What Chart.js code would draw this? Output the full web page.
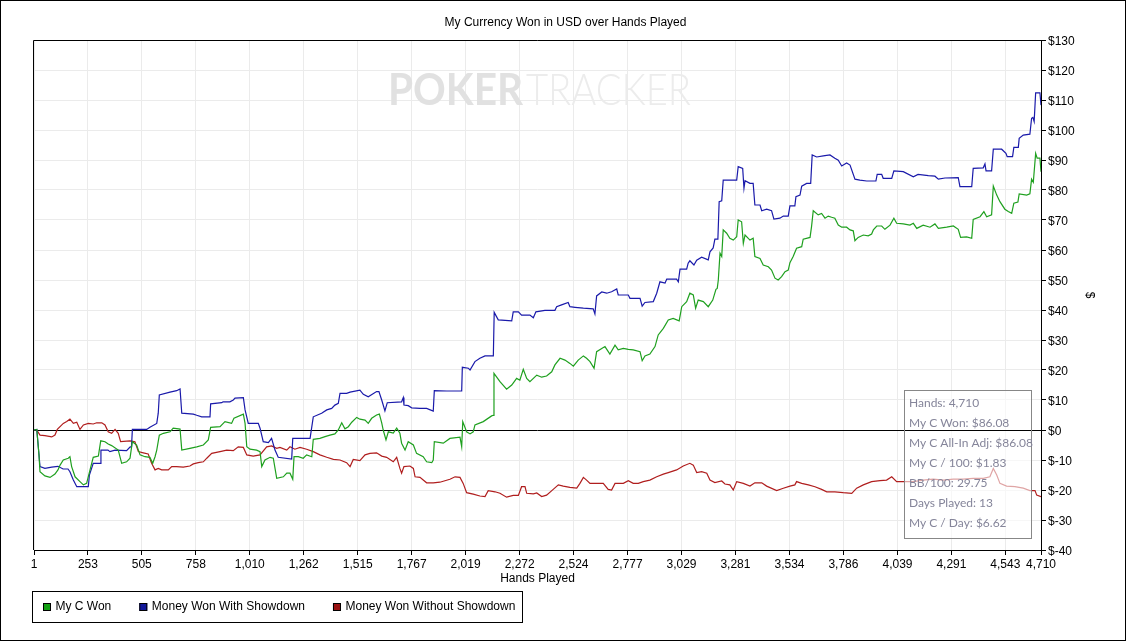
<!DOCTYPE html>
<html>
<head>
<meta charset="utf-8">
<script src="https://cdn.jsdelivr.net/npm/chart.js@4.4.1/dist/chart.umd.min.js"></script>
<style>
html,body{margin:0;padding:0;background:#fff;overflow:hidden}
#wrap{position:relative;width:1126px;height:641px}
</style>
</head>
<body>
<div id="wrap"><canvas id="c" width="1126" height="641"></canvas></div>
<script>
// ---------- DATA ----------
const chartTitle = 'My Currency Won in USD over Hands Played';
const xAxisTitle = 'Hands Played';
const yAxisTitle = '$';
const xTickValues = [1,253,505,758,1010,1262,1515,1767,2019,2272,2524,2777,3029,3281,3534,3786,4039,4291,4543,4710];
const yMin = -40, yMax = 130, yStep = 10;
const seriesNames = ['My C Won', 'Money Won With Showdown', 'Money Won Without Showdown'];
const seriesColors = ['#1fa01f', '#1a1aaa', '#b01e1e'];
const legendBoxColors = ['#12a012', '#12189a', '#9a1212'];

const wonHands = [1,14,24,29,52,76,99,113,123,138,161,169,177,193,216,232,247,263,278,302,313,333,348,364,395,411,434,450,461,481,497,520,543,556,567,575,587,606,637,652,684,692,730,762,793,816,827,871,894,925,936,980,988,996,1011,1042,1058,1066,1081,1105,1120,1136,1167,1183,1198,1211,1217,1237,1260,1276,1300,1307,1338,1362,1385,1408,1424,1440,1455,1471,1487,1510,1525,1549,1564,1580,1603,1616,1627,1634,1647,1658,1681,1697,1712,1720,1736,1751,1775,1790,1821,1837,1861,1868,1873,1915,1946,1993,2001,2006,2024,2040,2055,2063,2102,2141,2149,2152,2180,2211,2235,2258,2273,2289,2305,2320,2352,2375,2398,2422,2437,2461,2484,2507,2523,2546,2570,2585,2601,2620,2632,2656,2671,2694,2718,2733,2757,2780,2803,2835,2845,2858,2881,2905,2920,2944,2967,2990,3018,3030,3053,3068,3084,3095,3107,3131,3154,3175,3190,3196,3201,3209,3217,3224,3240,3255,3271,3287,3294,3310,3318,3326,3349,3364,3372,3396,3411,3435,3450,3466,3481,3497,3513,3528,3536,3551,3567,3591,3598,3630,3637,3645,3668,3684,3700,3715,3731,3746,3762,3778,3801,3817,3832,3840,3855,3879,3902,3918,3926,3942,3965,3980,4004,4022,4035,4066,4097,4113,4129,4159,4191,4214,4230,4269,4300,4323,4334,4362,4386,4393,4425,4443,4456,4479,4487,4503,4518,4541,4557,4573,4583,4602,4608,4643,4658,4666,4674,4685,4692,4705,4710];
const wonValues = [0,0.2,-8,-13.9,-15.3,-15.8,-14.7,-13.3,-11.7,-10,-9.4,-8.9,-12.2,-15.6,-17.2,-18.3,-17.8,-13.3,-9.1,-8.7,-3.6,-3.9,-4.7,-5.2,-6.7,-11.1,-10.6,-9.4,-3.9,-5,-8.3,-8.9,-9.1,-11.1,-8.9,-6.7,-1.7,-1.1,-0.6,0.6,0.3,-6.7,-6.1,-5.6,-5,-3.3,0.9,1.1,2.8,2.2,3.9,5.3,2.2,-5.6,-6.4,-6.7,-7.2,-12.2,-10,-9.1,-9.4,-16.1,-15.6,-14.4,-14.4,-16.4,-8.9,-8.9,-9.4,-8.3,-8.9,-3.1,-2.8,-2.2,-1.7,-1.3,0,2.4,0.4,1.1,2.6,4.2,3.6,3.3,2.2,3.9,5,5.3,2.4,0,-3.3,-0.6,-1,0.6,-1.1,-4.4,-6.7,-3.9,-5,-7.8,-8.9,-10.6,-10.9,-10,-3.9,-4.4,-2.8,-2.4,-5.6,2.8,-0.6,-1.3,-0.6,1.7,2.8,4.7,4.9,18.9,16.1,13.6,15,17.2,16.6,20.2,17.2,16.1,18.3,17.6,18,19.4,21.7,23.9,23.3,22.2,21.3,23.3,24.7,23.9,22.8,20.6,26.1,27.2,27.8,25.3,28.3,26.7,27.2,26.9,26.7,26.1,23.1,24.7,25.3,27.8,31.7,33.9,36.7,37.2,36.4,41.1,42.8,45.6,45,40.6,43.3,42.8,41.1,43.3,46.9,47.2,50,58.9,57.8,66.7,65.6,63.9,63.3,64.4,70,69.4,62.2,65,63.3,63.9,57.8,57.2,55,54.4,53.3,50.6,50,51.1,52.8,53.3,55.8,57.8,60.6,61.1,63.6,64.2,67.8,73.1,71.7,72.2,70.6,71.3,70.9,70.6,68.3,67.6,67.6,66.7,66.4,63.1,64.2,65,64.7,65.3,66.7,68,68,66.9,68.3,70.6,68.9,68.7,68.3,68.9,67.2,68.3,67.6,68.7,67.2,67.6,68,66.9,64.2,64.4,63.9,70.2,71.1,72.8,71.1,71.7,81.3,78.3,76.1,73.6,72.8,72.2,75.6,76,78.7,78.3,78.7,83.6,82.6,92.2,90.6,90.6,86.1];

const sdHands = [1,14,24,29,52,84,113,137,160,169,185,201,255,260,278,310,314,347,356,380,434,450,457,461,528,543,575,582,587,637,668,684,692,746,762,785,824,827,879,885,917,933,941,980,988,1003,1050,1058,1073,1097,1112,1128,1143,1206,1211,1292,1307,1346,1370,1393,1408,1424,1432,1463,1479,1525,1541,1564,1603,1614,1627,1642,1653,1720,1728,1731,1751,1767,1806,1837,1868,1873,1931,2001,2004,2032,2040,2063,2086,2110,2149,2153,2172,2235,2242,2266,2281,2320,2336,2348,2390,2437,2445,2468,2499,2507,2531,2570,2616,2624,2632,2656,2679,2702,2726,2733,2780,2788,2835,2845,2858,2897,2913,2928,2952,2960,3006,3014,3022,3053,3060,3068,3087,3100,3123,3154,3162,3177,3185,3199,3205,3217,3224,3287,3294,3315,3321,3326,3349,3364,3372,3396,3404,3427,3450,3461,3489,3505,3528,3536,3559,3564,3583,3591,3614,3633,3640,3661,3692,3723,3746,3762,3778,3801,3817,3840,3863,3895,3938,3944,3965,3972,4012,4022,4066,4113,4135,4183,4214,4230,4261,4323,4331,4386,4393,4440,4448,4453,4479,4487,4526,4546,4552,4577,4583,4604,4608,4627,4658,4666,4672,4678,4685,4705,4710];
const sdValues = [0,0.2,-8,-12.2,-12.8,-12.4,-12.1,-13,-13,-13.9,-16.7,-18.9,-18.9,-15,-11.1,-11.1,-6.7,-6.7,-7.2,-6.7,-6.9,-5.7,-5.5,0.2,0.2,0.9,2.2,5.6,11.7,12.6,13.1,13.7,5.6,5.3,4.9,4.4,4.4,8.7,9.1,9.4,9.4,10,10.6,10.8,6.7,2.2,2.2,0.6,-3.9,-4.2,-2.8,-6.7,-9.1,-9.7,-2.8,-2.8,4.4,5.6,6.7,7.2,8.3,8.9,12.2,12.2,12.6,13.3,11.9,11.1,12.8,12.8,10,6.4,9.1,9.4,10.8,8.3,8.1,7.4,7.2,7.2,6.3,13.1,13,13,20.9,20.6,20,22.8,23.9,24.7,24.7,39.2,36.7,36.4,39.4,39.4,38.3,38.3,37.4,39.4,39.9,39.9,41.1,41.7,42.5,41.1,40.9,40.6,40.4,38.7,44.7,46,45.6,46.1,47,45,45,43.9,43.9,41.3,42.5,42.8,45.6,49.4,49,50.3,50.3,49.4,53.6,53.6,55.6,56.4,55,56.6,57.6,56.7,59.4,60.7,63.6,63.6,76.1,76.4,83.3,83.3,87.8,87.2,80.6,83.1,82.2,82.2,75,75,73.1,73.6,73.1,70.3,70.6,71.3,71.3,74.7,74.7,77.8,78.3,81.3,82.2,82.2,91.7,91,91.4,91.7,90.6,89.9,88,89,88.3,83.6,83.3,83,83,85.2,85.2,83.9,83.9,86.4,86.1,84.4,85.2,84.8,84.6,83.6,84,84.1,81.1,81.1,87.2,87.4,88.7,86.4,86.4,93.6,93.6,92.2,91.1,91.1,94.2,94.2,97.2,98.3,98.6,103.9,104.2,102.8,112.4,112.4,108.3];

const nsdHands = [1,14,29,52,84,99,110,138,154,169,185,201,216,232,255,278,294,318,333,348,364,380,395,406,450,473,489,512,535,551,567,582,598,629,645,668,699,730,746,769,793,809,832,871,902,933,956,980,996,1026,1058,1089,1112,1136,1151,1183,1198,1221,1245,1276,1307,1338,1370,1401,1432,1463,1479,1494,1525,1549,1572,1603,1627,1650,1681,1697,1712,1720,1731,1759,1775,1783,1806,1837,1868,1899,1946,1970,1993,2008,2024,2055,2086,2110,2125,2157,2180,2211,2242,2266,2281,2297,2305,2336,2352,2375,2398,2429,2453,2476,2507,2539,2554,2570,2585,2601,2632,2663,2686,2702,2718,2757,2780,2803,2827,2850,2881,2913,2944,2967,3006,3037,3068,3084,3100,3123,3147,3162,3185,3217,3232,3255,3271,3287,3318,3349,3372,3404,3427,3474,3505,3536,3559,3567,3591,3622,3653,3684,3708,3746,3785,3825,3848,3879,3918,3957,3988,4012,4035,4066,4113,4159,4206,4253,4300,4346,4393,4440,4471,4487,4503,4518,4549,4588,4627,4658,4682,4690,4710];
const nsdValues = [0,0,-1.7,-1.9,-2.3,-1.7,0.2,2.2,2.8,3.6,2.2,2.6,0.2,1.7,2.2,2,2.4,2.4,1.7,-0.6,-1.1,0.2,-1.1,-3.9,-3.6,-3.9,-7.2,-7.6,-8,-11.1,-13.3,-12.8,-13.3,-13.3,-12.2,-12.2,-12.4,-12,-11.3,-10.9,-10.6,-9.4,-7.8,-7.2,-6.7,-6.9,-5.6,-5.8,-8.3,-8.7,-8.3,-5.6,-5.3,-6.1,-5.8,-6.7,-5.6,-6.4,-5.8,-6.4,-7.2,-8.3,-9.1,-9.8,-10,-10.9,-12.2,-9.8,-10.2,-8.3,-7.8,-7.6,-8.7,-9.1,-10.6,-9.1,-12.8,-14.4,-12.2,-12,-12.8,-15.6,-15.8,-17.6,-17.6,-17.4,-16.4,-15.6,-15.8,-17.8,-20.9,-21.4,-22,-22.2,-20.2,-20.6,-21.1,-22.4,-21.8,-21.8,-18.9,-18.9,-21.1,-21.3,-21,-22.2,-21.7,-19.8,-18.3,-18.7,-19.1,-19.4,-17.8,-15.8,-16.7,-17.8,-17.8,-17.8,-19.8,-20,-17.8,-17.8,-16.9,-17.8,-17.8,-17.2,-16.7,-15.6,-14.7,-14.2,-13.3,-12,-11.1,-11.7,-14.2,-13.9,-14.4,-16.7,-17.5,-17,-18,-18.3,-20,-17.2,-17.8,-18.7,-17.6,-17.6,-18.7,-20.2,-19.4,-18.7,-18.3,-17.2,-17.8,-18.3,-18.9,-19.8,-20.6,-20.6,-20.9,-21.1,-19.4,-18.3,-17.2,-16.9,-16.7,-15.6,-17.2,-17.2,-17.2,-16.7,-16.4,-16.7,-16.4,-16.4,-16.1,-16.1,-15.6,-12.8,-15,-17.8,-18.7,-18.9,-19.4,-20.2,-20.2,-21.7,-22.2];

const infoLines = ['Hands: 4,710', 'My C Won: $86.08', 'My C All-In Adj: $86.08', 'My C / 100: $1.83', 'BB/100: 29.75', 'Days Played: 13', 'My C / Day: $6.62'];
const watermarkParts = ['POKER', 'TRACKER'];

// ---------- BUILD ----------
const FONT = '"Liberation Sans", Arial, sans-serif';
function pts(hs, vs) { return hs.map((h, i) => ({x: h, y: vs[i]})); }
const seriesData = [pts(wonHands, wonValues), pts(sdHands, sdValues), pts(nsdHands, nsdValues)];

const decorPlugin = {
  id: 'decor',
  beforeDatasetsDraw(chart) {
    const ctx = chart.ctx;
    ctx.save();
    ctx.textBaseline = 'alphabetic';
    ctx.textAlign = 'left';
    // watermark
    ctx.font = 'bold 44px Lato, "Open Sans", sans-serif';
    let w = ctx.measureText(watermarkParts[0]).width;
    ctx.save(); ctx.translate(388, 105); ctx.scale(135 / w, 1);
    ctx.fillStyle = '#e1e1e1'; ctx.fillText(watermarkParts[0], 0, 0); ctx.restore();
    ctx.font = '300 44px Lato, "Open Sans", sans-serif';
    w = ctx.measureText(watermarkParts[1]).width;
    ctx.save(); ctx.translate(526, 105); ctx.scale(165 / w, 1);
    ctx.fillStyle = '#ececec'; ctx.fillText(watermarkParts[1], 0, 0); ctx.restore();
    ctx.restore();
  },
  afterDraw(chart) {
    const ctx = chart.ctx, a = chart.chartArea;
    ctx.save();
    ctx.lineWidth = 1;
    ctx.strokeStyle = '#000';
    // plot top / left border
    ctx.beginPath();
    ctx.moveTo(a.left - 0.5, a.bottom); ctx.lineTo(a.left - 0.5, a.top + 0.5); ctx.lineTo(a.right, a.top + 0.5);
    ctx.stroke();
    // outer frame
    ctx.strokeRect(0.5, 0.5, chart.width - 1, chart.height - 1);

    // info box
    const bx = 904.5, by = 390.5, bw = 127, bh = 148;
    ctx.fillStyle = 'rgba(255,255,255,0.6)';
    ctx.fillRect(bx, by, bw, bh);
    // zero line stays dark across the box
    const y0 = Math.round(chart.scales.y.getPixelForValue(0)) + 0.5;
    ctx.beginPath(); ctx.moveTo(bx, y0); ctx.lineTo(bx + bw, y0); ctx.strokeStyle = '#000'; ctx.stroke();
    ctx.strokeStyle = '#878787';
    ctx.strokeRect(bx, by, bw, bh);
    ctx.fillStyle = '#85859a';
    ctx.font = '12px Lato, "Noto Sans", sans-serif';
    ctx.textBaseline = 'middle';
    ctx.textAlign = 'left';
    infoLines.forEach((t, i) => ctx.fillText(t, 909, 403 + i * 20));

    // legend
    ctx.font = '12px ' + FONT;
    ctx.fillStyle = '#000';
    let lx = 43;
    const ly = 607;
    chart.data.datasets.forEach((ds, i) => {
      ctx.fillStyle = legendBoxColors[i];
      ctx.fillRect(lx, ly - 4, 8, 8);
      ctx.strokeStyle = '#000';
      ctx.strokeRect(lx + 0.5, ly - 3.5, 7, 7);
      ctx.fillStyle = '#000';
      ctx.fillText(ds.label, lx + 12.5, ly);
      lx += 12.5 + ctx.measureText(ds.label).width + (i < chart.data.datasets.length - 1 ? 28 : 0);
    });
    ctx.strokeStyle = '#000';
    ctx.strokeRect(32.5, 591.5, Math.round(lx + 7 - 32.5), 31);
    ctx.restore();
  }
};

new Chart(document.getElementById('c'), {
  type: 'line',
  data: {
    datasets: seriesNames.map((n, i) => ({
      label: n,
      data: seriesData[i],
      borderColor: seriesColors[i],
      backgroundColor: seriesColors[i],
      borderWidth: 1.2,
      pointRadius: 0,
      tension: 0,
      fill: false
    }))
  },
  options: {
    responsive: false,
    animation: false,
    devicePixelRatio: 1,
    layout: { padding: { left: 34, right: 29, top: 0, bottom: 55 } },
    plugins: {
      legend: { display: false },
      tooltip: { enabled: false },
      title: {
        display: true,
        text: chartTitle,
        color: '#000',
        font: { family: FONT, size: 12, weight: 'normal' },
        padding: { top: 15, bottom: 10.6 }
      }
    },
    scales: {
      x: {
        type: 'linear',
        min: xTickValues[0],
        max: xTickValues[xTickValues.length - 1],
        afterBuildTicks: s => { s.ticks = xTickValues.map(v => ({ value: v })); },
        afterFit: s => { s.height = 36; },
        ticks: {
          autoSkip: false, maxRotation: 0, minRotation: 0, padding: 2,
          color: '#000', font: { family: FONT, size: 12 },
          callback: v => Number(v).toLocaleString('en-US')
        },
        grid: { color: '#ebebeb', tickColor: '#000', tickLength: 5, lineWidth: 1 },
        border: { color: '#000', width: 1 },
        title: { display: true, text: xAxisTitle, color: '#000', font: { family: FONT, size: 12 }, padding: { top: 0, bottom: 0 } }
      },
      y: {
        type: 'linear',
        position: 'right',
        min: yMin, max: yMax,
        afterFit: s => { s.width = 56; },
        ticks: {
          stepSize: yStep, padding: 2, labelOffset: 2, color: '#000', font: { family: FONT, size: 12 },
          callback: v => '$' + v
        },
        grid: {
          color: c => (c.tick && c.tick.value === 0) ? '#000' : '#ebebeb',
          tickColor: '#000', tickLength: 5, lineWidth: 1
        },
        border: { color: '#000', width: 1 },
        title: { display: true, text: yAxisTitle, color: '#000', font: { family: FONT, size: 12 }, padding: { top: 0, bottom: 0 } }
      }
    }
  },
  plugins: [decorPlugin]
});
</script>
</body>
</html>
